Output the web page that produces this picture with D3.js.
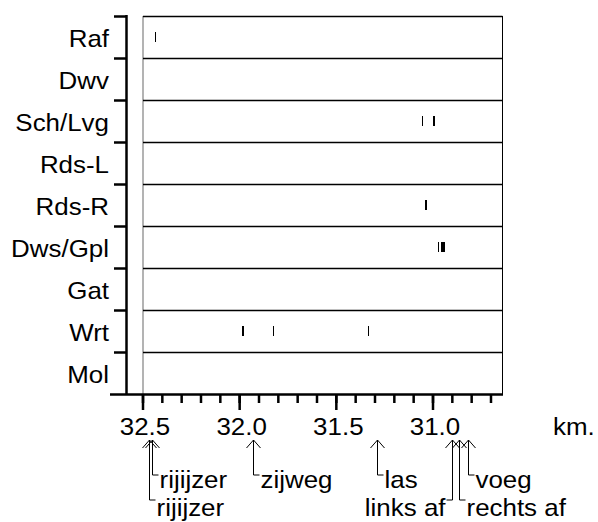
<!DOCTYPE html>
<html><head><meta charset="utf-8">
<script src="https://cdn.jsdelivr.net/npm/d3@7"></script>
<style>body{margin:0;background:#fff}text{font-family:"Liberation Sans",Arial,sans-serif;fill:#000}</style>
</head><body><svg id="c" width="598" height="522"></svg>
<script>
const categories = ["Raf","Dwv","Sch/Lvg","Rds-L","Rds-R","Dws/Gpl","Gat","Wrt","Mol"];
const rafKm = [32.44];
const dwvKm = [];
const schKm = [31.055, 31.0, 30.995];
const rdslKm = [];
const rdsrKm = [31.04, 31.035];
const dwsKm = [30.975, 30.96, 30.955, 30.95, 30.945];
const gatKm = [];
const wrtKm = [31.99, 31.985, 31.83, 31.335];
const molKm = [];
const seriesKm = [rafKm, dwvKm, schKm, rdslKm, rdsrKm, dwsKm, gatKm, wrtKm, molKm];
const majorTicks = [32.5, 32.0, 31.5, 31.0];
const tickLabels = ["32.5", "32.0", "31.5", "31.0"];
const minorTicks = [32.5,32.4,32.3,32.2,32.1,32.0,31.9,31.8,31.7,31.6,31.5,31.4,31.3,31.2,31.1,31.0,30.9,30.8,30.7];
const annotLabels = ["rijijzer","rijijzer","zijweg","las","links af","rechts af","voeg"];
const annotKm = [32.455, 32.47, 31.93, 31.29, 30.902, 30.866, 30.82];
const annotRow = [1, 2, 1, 1, 2, 2, 1];
const annotSide = ["right","right","right","right","left","right","right"];

const svg = d3.select("#c");
const FS = 24, SX = 1.08;
const x = d3.scaleLinear().domain([32.5, 30.7]).range([143, 491]);
const xEnd = 502;
const y = d3.scaleBand().domain(categories).range([16, 394]).padding(0);
const pTop = 16, pBottom = 394;

function stext(sel, tx, ty, anchor, str){
  return sel.append("text").attr("transform",`translate(${tx},${ty}) scale(${SX},1)`)
    .attr("text-anchor",anchor).attr("font-size",FS).text(str);
}

// panel
const g = svg.append("g");
g.append("line").attr("x1",143).attr("x2",143).attr("y1",pTop).attr("y2",pBottom).attr("stroke","#808080").attr("stroke-width",1.2);
g.append("line").attr("x1",xEnd+0.5).attr("x2",xEnd+0.5).attr("y1",pTop).attr("y2",pBottom).attr("stroke","#000");
g.selectAll("line.row").data(categories).join("line").attr("class","row")
  .attr("x1",143).attr("x2",xEnd+0.5)
  .attr("y1",d=>y(d)+0.5).attr("y2",d=>y(d)+0.5).attr("stroke","#000").attr("stroke-width",1.3);

// marks
categories.forEach((c,i)=>{
  g.selectAll(null).data(seriesKm[i]).join("line")
   .attr("x1",d=>Math.round(x(d))+0.5).attr("x2",d=>Math.round(x(d))+0.5)
   .attr("y1",y(c)+y.bandwidth()/2-5).attr("y2",y(c)+y.bandwidth()/2+5)
   .attr("stroke","#000").attr("stroke-width",1);
});

// y axis
const ya = svg.append("g");
ya.append("line").attr("x1",126.5).attr("x2",126.5).attr("y1",pTop-1).attr("y2",pBottom+1).attr("stroke","#000").attr("stroke-width",2.5);
const yb = categories.map(c=>y(c));
ya.selectAll("line.yt").data(yb).join("line").attr("class","yt")
  .attr("x1",114).attr("x2",127).attr("y1",d=>d+0.5).attr("y2",d=>d+0.5).attr("stroke","#000").attr("stroke-width",2.5);
categories.forEach(c=>stext(ya,109,y(c)+y.bandwidth()/2+9.5,"end",c));

// x axis
const xa = svg.append("g");
xa.append("line").attr("x1",110).attr("x2",xEnd+1).attr("y1",pBottom+0.5).attr("y2",pBottom+0.5).attr("stroke","#000").attr("stroke-width",2.5);
xa.selectAll("line.mn").data(minorTicks).join("line").attr("class","mn")
  .attr("x1",d=>x(d)).attr("x2",d=>x(d)).attr("y1",pBottom).attr("y2",pBottom+9).attr("stroke","#000").attr("stroke-width",2.5);
xa.selectAll("line.mj").data(majorTicks).join("line").attr("class","mj")
  .attr("x1",d=>x(d)).attr("x2",d=>x(d)).attr("y1",pBottom).attr("y2",pBottom+16).attr("stroke","#000").attr("stroke-width",2.5);
majorTicks.forEach((d,i)=>stext(xa,x(d)+2,434.5,"middle",tickLabels[i]));
stext(xa,553,434.5,"start","km.");

// annotations
const an = svg.append("g");
const rowHook = {1:475, 2:500};
const rowBase = {1:488, 2:516};
annotLabels.forEach((lab,i)=>{
  const ax = Math.round(x(annotKm[i]))+0.5;
  const tipY = 440;
  const hy = rowHook[annotRow[i]];
  const dir = annotSide[i]==="right" ? 1 : -1;
  an.append("path")
    .attr("d",`M${ax-7},${tipY+8}L${ax},${tipY}L${ax+7},${tipY+8}`)
    .attr("fill","none").attr("stroke","#000").attr("stroke-width",1);
  an.append("path")
    .attr("d",`M${ax},${tipY}L${ax},${hy}L${ax+dir*6},${hy}`)
    .attr("fill","none").attr("stroke","#000").attr("stroke-width",1);
  stext(an, ax+dir*7, rowBase[annotRow[i]], dir>0?"start":"end", lab);
});
</script></body></html>
